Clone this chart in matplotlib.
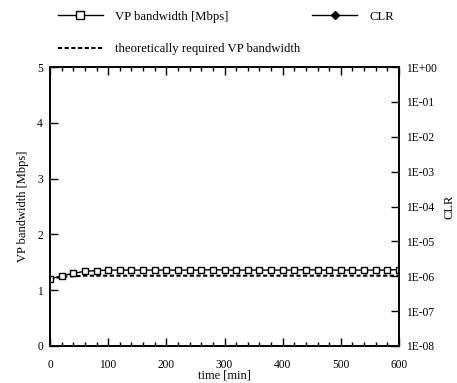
import matplotlib
matplotlib.use("Agg")
import matplotlib.pyplot as plt
from matplotlib.ticker import MultipleLocator, FixedLocator
from matplotlib.lines import Line2D

plt.rcParams['font.family'] = ['Liberation Serif', 'DejaVu Serif']

time_min = list(range(0, 601, 20))
vp_bw = [1.20, 1.26, 1.30, 1.34, 1.35, 1.36, 1.36, 1.36, 1.36, 1.36,
         1.36, 1.36, 1.36, 1.36, 1.37, 1.36, 1.36, 1.36, 1.36, 1.36,
         1.36, 1.36, 1.37, 1.36, 1.36, 1.36, 1.36, 1.36, 1.36, 1.36, 1.37]
theo_bw = [1.20, 1.24, 1.25, 1.26, 1.26, 1.26, 1.26, 1.26, 1.26, 1.26,
           1.26, 1.26, 1.26, 1.26, 1.26, 1.26, 1.26, 1.26, 1.26, 1.26,
           1.26, 1.26, 1.26, 1.26, 1.26, 1.26, 1.26, 1.26, 1.26, 1.26, 1.26]
clr_ticks = [1e-8, 1e-7, 1e-6, 1e-5, 1e-4, 1e-3, 1e-2, 1e-1, 1e0]
clr_labels = ['1E-08', '1E-07', '1E-06', '1E-05', '1E-04', '1E-03', '1E-02', '1E-01', '1E+00']

W, H = 457, 383
fig = plt.figure(figsize=(W/100, H/100), dpi=100)
ax = fig.add_axes([50/W, (H-346)/H, (399-50)/W, (346-67)/H])

ax.plot(time_min, theo_bw, color='black', linestyle=(0, (2, 1.2)), linewidth=1.5)
ax.plot(time_min, vp_bw, color='black', linewidth=1.0, marker='s', markersize=5,
        markerfacecolor='white', markeredgecolor='black', markeredgewidth=1.0)

ax.set_xlim(0, 600)
ax.set_ylim(0, 5)
ax.xaxis.set_major_locator(MultipleLocator(100))
ax.xaxis.set_minor_locator(MultipleLocator(20))
ax.yaxis.set_major_locator(MultipleLocator(1))
ax.tick_params(axis='x', which='both', direction='in', top=True, bottom=True, labelsize=8.3, pad=9)
ax.tick_params(axis='x', which='major', length=6, width=1)
ax.tick_params(axis='x', which='minor', length=3, width=1)
ax.tick_params(axis='y', which='both', direction='in', left=True, right=False, labelsize=8.3, length=6, width=1, pad=5)
for s in ax.spines.values():
    s.set_linewidth(1.2)

ax2 = ax.twinx()
ax2.set_yscale('log')
ax2.set_ylim(1e-8, 1e0)
ax2.yaxis.set_major_locator(FixedLocator(clr_ticks))
ax2.yaxis.set_minor_locator(FixedLocator([]))
ax2.set_yticklabels(clr_labels)
ax2.tick_params(axis='y', which='both', direction='in', labelsize=8.3, length=6, width=1, pad=5)
for s in ax2.spines.values():
    s.set_linewidth(1.2)

ax.set_xlabel('time [min]', fontsize=9, labelpad=-1)
ax.set_ylabel('VP bandwidth [Mbps]', fontsize=9, labelpad=6)
ax2.set_ylabel('CLR', fontsize=9, labelpad=5)

h_vp = Line2D([], [], color='black', linewidth=1.0, marker='s', markersize=5.5,
              markerfacecolor='white', markeredgecolor='black')
h_theo = Line2D([], [], color='black', linestyle=(0, (2, 1.2)), linewidth=1.5)
h_clr = Line2D([], [], color='black', linewidth=1.0, marker='D', markersize=4.5,
               markerfacecolor='black', markeredgecolor='black')
fig.legend([h_vp, h_theo, h_clr],
           ['VP bandwidth [Mbps]', 'theoretically required VP bandwidth', 'CLR'],
           ncol=2, loc='upper left', bbox_to_anchor=(49/W, 0.995), frameon=False,
           fontsize=9.2, handlelength=3.5, handletextpad=1.0, labelspacing=1.6,
           columnspacing=0.9, borderaxespad=0.3)

fig.savefig('out.png', dpi=100)
